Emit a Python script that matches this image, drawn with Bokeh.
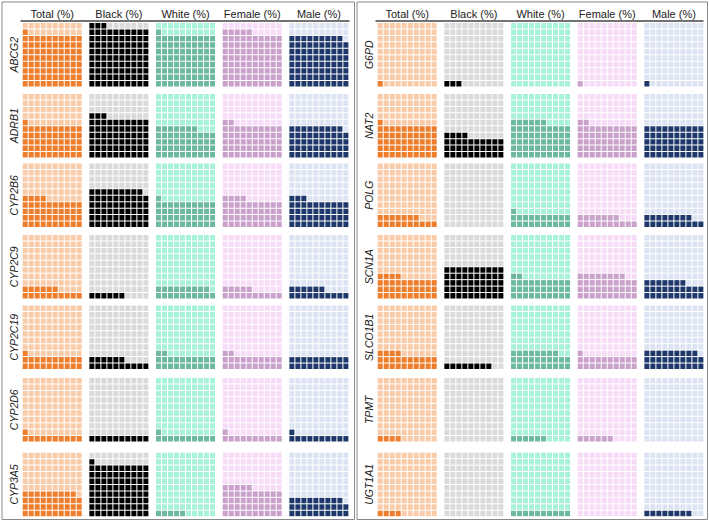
import math
from bokeh.plotting import figure
from bokeh.models import Range1d
from bokeh.embed import file_html
from bokeh.resources import INLINE
from bokeh.core.properties import value

# ---------------- data (percent of 100-cell waffle) ----------------
groups = ["Total (%)", "Black (%)", "White (%)", "Female (%)", "Male (%)"]

genes_left = ["ABCG2", "ADRB1", "CYP2B6", "CYP2C9", "CYP2C19", "CYP2D6", "CYP3A5"]
total_left = [81, 51, 44, 16, 21, 11, 39]
black_left = [93, 63, 59, 6, 16, 10, 81]
white_left = [81, 47, 41, 19, 22, 11, 5]
female_left = [85, 52, 44, 15, 22, 11, 45]
male_left = [79, 49, 43, 16, 20, 11, 29]

genes_right = ["G6PD", "NAT2", "POLG", "SCN1A", "SLCO1B1", "TPMT", "UGT1A1"]
total_right = [1, 51, 17, 34, 24, 4, 4]
black_right = [3, 34, 0, 50, 8, 0, 0]
white_right = [0, 56, 21, 32, 28, 6, 10]
female_right = [1, 52, 17, 38, 21, 6, 0]
male_right = [1, 50, 18, 27, 29, 0, 8]

# ---------------- styles / layout ----------------
dark_colors = ["#EE7D2C", "#000000", "#6CB9A0", "#C9A1CB", "#1F386B"]
light_colors = ["#FACBA8", "#DADADA", "#A8F1DA", "#F7DCF7", "#DCE3F2"]

panel_x0 = [21.7, 376.7]          # left edge of first waffle in each panel
col_pitch = 66.67
grid_w = 60.0
grid_h = 64.5
row_tops = [22.0, 93.0, 162.5, 234.0, 304.5, 377.0, 451.7]
gap = 1.0
FONT = "Liberation Sans"

W, H = 709, 522
p = figure(width=W, height=H, output_backend="svg", toolbar_location=None,
           x_range=Range1d(0, W), y_range=Range1d(H, 0),
           x_axis_type=None, y_axis_type=None, min_border=0,
           background_fill_color="white", border_fill_color="white")
p.outline_line_color = None
p.grid.visible = False

panels = [
    (genes_left, [total_left, black_left, white_left, female_left, male_left]),
    (genes_right, [total_right, black_right, white_right, female_right, male_right]),
]

L, R, T, B, C = [], [], [], [], []
lab_x, lab_y, lab_t = [], [], []
head_x, head_y, head_t = [], [], []
for pi, (genes, series) in enumerate(panels):
    x0 = panel_x0[pi]
    for j, g in enumerate(groups):
        gx = x0 + j * col_pitch
        head_x.append(gx + grid_w / 2)
        head_y.append(13)
        head_t.append(g)
        for i, gene in enumerate(genes):
            v = series[j][i]
            top = row_tops[i]
            bottom = top + grid_h
            cw = grid_w / 10
            ch = grid_h / 10
            for k in range(100):
                r = k // 10
                c = k % 10
                L.append(gx + c * cw + gap / 2)
                R.append(gx + (c + 1) * cw - gap / 2)
                B.append(bottom - r * ch - gap / 2)
                T.append(bottom - (r + 1) * ch + gap / 2)
                C.append(dark_colors[j] if k < v else light_colors[j])
    for i, gene in enumerate(genes):
        lab_x.append(x0 - 8.7)
        lab_y.append(row_tops[i] + grid_h / 2)
        lab_t.append(gene)

p.quad(left=L, right=R, top=T, bottom=B, fill_color=C, line_color=None)

p.text(x=head_x, y=head_y, text=head_t, text_font=value(FONT), text_font_size="11px",
       text_align="center", text_baseline="middle", text_color="#222222")
p.text(x=lab_x, y=lab_y, text=lab_t, angle=math.pi / 2, text_font=value(FONT),
       text_font_size="10.5px", text_font_style="italic",
       text_align="center", text_baseline="middle", text_color="#222222")

# header rules
p.segment(x0=[20, 375], y0=[20.5, 20.5], x1=[349, 703], y1=[20.5, 20.5],
          line_color="#444444", line_width=1.5)
# panel frames
p.quad(left=[1.5, 356.5], right=[354, 707], top=[1.5, 1.5], bottom=[519, 519],
       fill_color=None, line_color="#8a8a8a", line_width=1)

open("out.html", "w").write(file_html(p, INLINE))
